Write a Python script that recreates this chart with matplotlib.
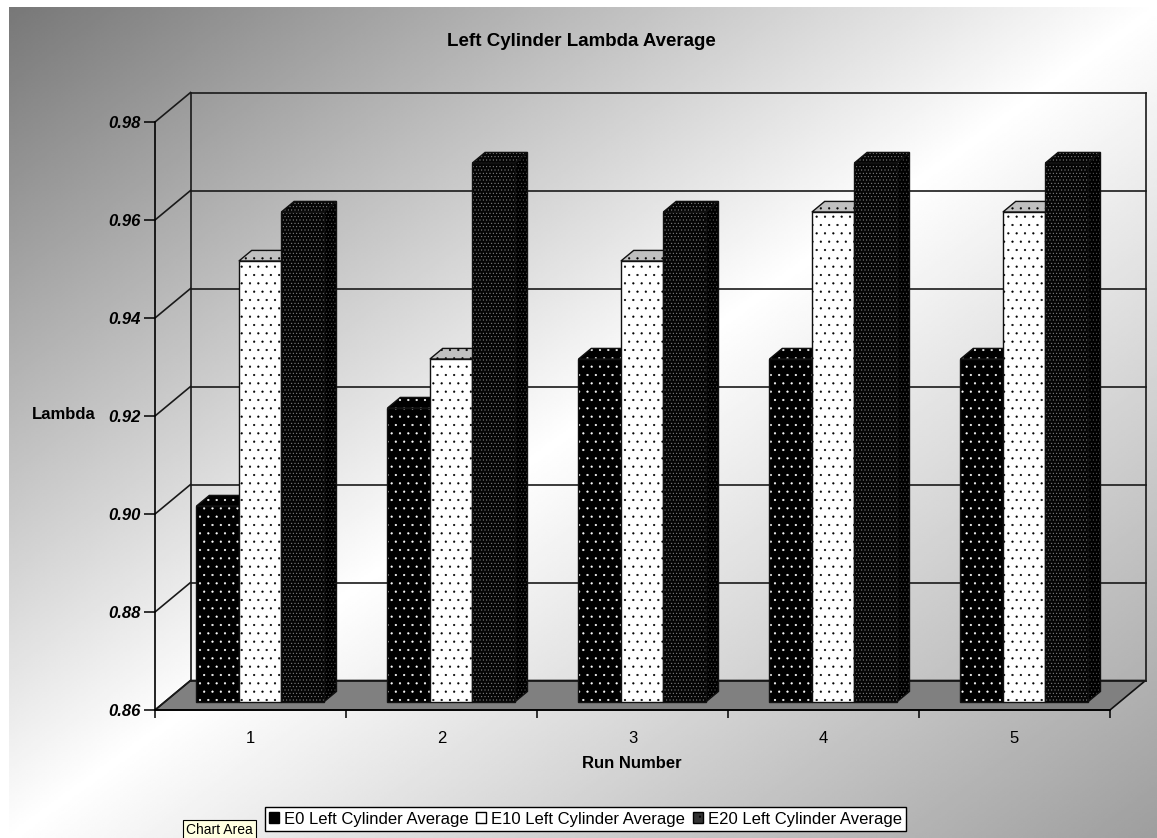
import numpy as np
import matplotlib
matplotlib.use('Agg')
import matplotlib.pyplot as plt
from matplotlib import font_manager
from matplotlib.patches import Polygon, Patch

# run-by-run lambda averages
runs = [1, 2, 3, 4, 5]
e0_avg = [0.90, 0.92, 0.93, 0.93, 0.93]
e10_avg = [0.95, 0.93, 0.95, 0.96, 0.96]
e20_avg = [0.96, 0.97, 0.96, 0.97, 0.97]
series_names = ['E0 Left Cylinder Average', 'E10 Left Cylinder Average',
                'E20 Left Cylinder Average']
y_ticks = [0.86, 0.88, 0.90, 0.92, 0.94, 0.96, 0.98]

names = {f.name for f in font_manager.fontManager.ttflist}
SANS = 'Liberation Sans' if 'Liberation Sans' in names else 'DejaVu Sans'
NARROW = 'Liberation Sans Narrow' if 'Liberation Sans Narrow' in names else SANS
plt.rcParams['font.family'] = SANS
plt.rcParams['hatch.linewidth'] = 0.35

W, H = 1157, 838
fig = plt.figure(figsize=(W / 100, H / 100), dpi=100)
fig.patch.set_facecolor('white')

# diagonal grey -> white -> grey chart-area fill
bg = fig.add_axes([9 / W, 0, 1 - 9 / W, 1 - 7 / H])
bg.set_axis_off()
U, V = np.meshgrid(np.linspace(0, 1, 500), np.linspace(0, 1, 400))
shade = np.interp((U + V) / 2, [0, 0.5, 1], [0.47, 1.0, 0.62])
bg.imshow(shade, cmap='gray', vmin=0, vmax=1, aspect='auto',
          interpolation='bilinear')

# front plane of the 3-D box
ax = fig.add_axes([155 / W, 128 / H, 955 / W, 588 / H])
ax.set_xlim(0.5, 5.5)
ax.set_ylim(0.86, 0.98)
ax.patch.set_alpha(0)

# depth offsets of the box (in data units)
DX, DY = 0.186, 0.00602
base = y_ticks[0]
x_lo, x_hi = 0.5, 5.5


def proj(x, v, z):
    return (x + z * DX, v + z * DY)


def face(pts, fc, hatch=None, hc=None, z=3, lw=1.0):
    ax.add_patch(Polygon(pts, closed=True, facecolor=fc, edgecolor=hc or fc,
                         hatch=hatch, linewidth=0, clip_on=False, zorder=z))
    ax.add_patch(Polygon(pts, closed=True, facecolor='none', edgecolor='#111111',
                         linewidth=lw, clip_on=False, zorder=z + 0.01))


# floor
face([proj(x_lo, base, 0), proj(x_hi, base, 0), proj(x_hi, base, 1),
      proj(x_lo, base, 1)], '#808080', z=1, lw=1.2)

# walls: back grid lines, side-wall diagonals and edges
line_kw = dict(color='#1a1a1a', lw=1.2, clip_on=False, zorder=2)
for v in y_ticks:
    p0, p1 = proj(x_lo, v, 1), proj(x_hi, v, 1)
    ax.plot([p0[0], p1[0]], [p0[1], p1[1]], **line_kw)
    q0, q1 = proj(x_lo, v, 0), proj(x_lo, v, 1)
    ax.plot([q0[0], q1[0]], [q0[1], q1[1]], **line_kw)
for x in (x_lo, x_hi):
    p0, p1 = proj(x, base, 1), proj(x, y_ticks[-1], 1)
    ax.plot([p0[0], p1[0]], [p0[1], p1[1]], **line_kw)

# bars
styles = [
    dict(front=('#000000', '..', '#ffffff'), side=('#000000', '..', '#ffffff'),
         top=('#000000', '..', '#ffffff')),
    dict(front=('#ffffff', '..', '#000000'), side=('#d8d8d8', '..', '#000000'),
         top=('#c0c0c0', '..', '#000000')),
    dict(front=('#050505', '.....', '#8c8c8c'), side=('#000000', '.....', '#5a5a5a'),
         top=('#050505', '.....', '#8c8c8c')),
]
GAP, BW = 0.167, 0.222
Z0, Z1 = 0.27, 0.63
zo = 3
for i, run in enumerate(runs):
    for j, vals in enumerate([e0_avg, e10_avg, e20_avg]):
        v = vals[i]
        st = styles[j]
        x0 = run - 0.5 + GAP + j * BW
        x1 = x0 + BW
        side = [proj(x1, base, Z0), proj(x1, base, Z1), proj(x1, v, Z1), proj(x1, v, Z0)]
        top = [proj(x0, v, Z0), proj(x1, v, Z0), proj(x1, v, Z1), proj(x0, v, Z1)]
        front = [proj(x0, base, Z0), proj(x1, base, Z0), proj(x1, v, Z0), proj(x0, v, Z0)]
        fc, h, hc = st['side']
        face(side, fc, h, hc, z=zo)
        fc, h, hc = st['top']
        face(top, fc, h, hc, z=zo + 0.1)
        fc, h, hc = st['front']
        face(front, fc, h, hc, z=zo + 0.2)
        zo += 0.5

# axes, ticks and labels
for s in ('top', 'right'):
    ax.spines[s].set_visible(False)
for s in ('left', 'bottom'):
    ax.spines[s].set_linewidth(1.2)
    ax.spines[s].set_zorder(50)

ax.set_yticks(y_ticks)
ax.set_yticklabels([f'{t:.2f}' for t in y_ticks], fontfamily=NARROW,
                   fontweight='bold', fontstyle='italic', fontsize=12)
ax.tick_params(axis='y', direction='out', length=8, width=1.1, pad=2)

ax.set_xticks(runs)
ax.set_xticklabels([str(r) for r in runs], fontsize=12)
ax.set_xticks([r + 0.5 for r in [0] + runs], minor=True)
ax.tick_params(axis='x', which='major', length=0, pad=15)
ax.tick_params(axis='x', which='minor', direction='out', length=6, width=1.1)

ax.set_xlabel('Run Number', fontsize=12, fontweight='bold')
ax.xaxis.set_label_coords(0.499, -0.078)
ax.set_ylabel('Lambda', fontsize=12, fontweight='bold', rotation=0,
              ha='center', va='center')
ax.yaxis.set_label_coords(-0.096, 0.502)

fig.text(581 / W, 1 - 41 / H, 'Left Cylinder Lambda Average',
         ha='center', va='center', fontsize=13.5, fontweight='bold')

handles = [Patch(facecolor='#000000', edgecolor='#000000'),
           Patch(facecolor='#ffffff', edgecolor='#000000'),
           Patch(facecolor='#333333', edgecolor='#000000', hatch='..')]
leg = fig.legend(handles, series_names, loc='center', ncol=3,
                 bbox_to_anchor=(585.5 / W, 1 - 819 / H), frameon=True,
                 fancybox=False, edgecolor='black', framealpha=1,
                 borderpad=0.25, borderaxespad=0, handlelength=0.6,
                 handleheight=0.6, handletextpad=0.3, columnspacing=0.45,
                 prop=dict(family=NARROW, size=12))
leg.get_frame().set_linewidth(1.0)

fig.text(186 / W, 1 - 830 / H, 'Chart Area', ha='left', va='center',
         fontsize=10, fontfamily=NARROW, zorder=20,
         bbox=dict(boxstyle='square,pad=0.2', facecolor='#ffffe1',
                   edgecolor='black', linewidth=0.8))

fig.savefig('out.png', dpi=100)
